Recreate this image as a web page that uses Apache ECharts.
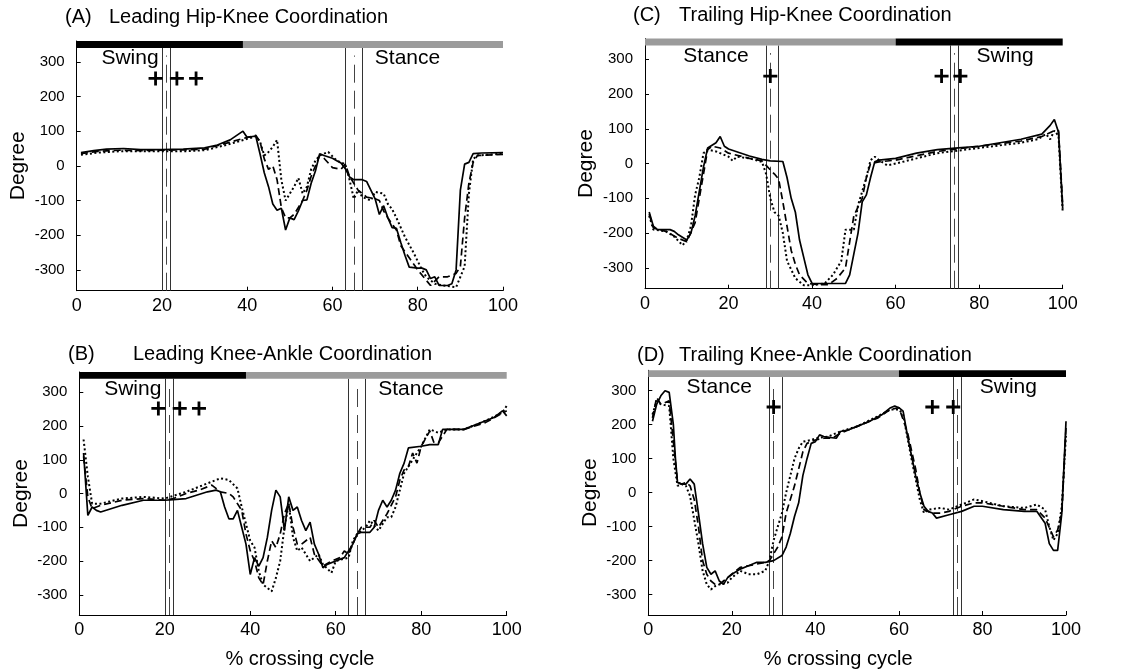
<!DOCTYPE html>
<html>
<head>
<meta charset="utf-8">
<script src="https://cdn.jsdelivr.net/npm/echarts@6/dist/echarts.min.js"></script>
<style>
  html, body { margin: 0; padding: 0; background: #fff; }
  #main { width: 1132px; height: 670px; }
</style>
</head>
<body>
<div id="main"></div>
<script>
// ---- data: [% crossing cycle, degree] ----
// (A) Leading hip-knee
var leadHipKneeSolid = [[1,38],[4,44],[7,48],[11,50],[15,47],[20,47],[25,48],[30,52],[33,60],[36,75],[39,100],[40,82],[42,86],[43,35],[44,-20],[45,-60],[46,-110],[47,-128],[48,-122],[49,-185],[50,-150],[51,-155],[52,-130],[53,-100],[54,-98],[55,-50],[56,-15],[57,35],[58,30],[60,22],[61,15],[62,8],[63,-8],[64,-32],[65,-40],[67,-40],[68,-45],[69,-70],[70,-95],[71,-140],[72,-115],[73,-150],[74,-178],[75,-180],[76,-220],[77,-258],[78,-292],[80,-295],[81,-295],[82,-300],[83,-325],[84,-320],[85,-345],[87,-345],[88,-340],[89,-300],[90,-70],[91,5],[92,10],[93,35],[95,37],[100,38]];
var leadHipKneeDashed = [[1,35],[5,42],[10,45],[15,44],[20,45],[25,46],[30,48],[35,65],[40,82],[42,88],[43,70],[44,20],[45,-10],[46,0],[47,-40],[48,-120],[49,-150],[50,-150],[51,-140],[52,-120],[53,-100],[54,-70],[55,-30],[56,0],[57,30],[58,22],[60,-5],[62,-10],[63,5],[64,-30],[65,-50],[66,-70],[68,-90],[70,-95],[71,-100],[72,-130],[73,-150],[75,-185],[76,-230],[78,-265],[80,-300],[82,-330],[83,-345],[85,-320],[87,-320],[89,-310],[90,-290],[91,-150],[92,-50],[93,10],[94,30],[100,33]];
var leadHipKneeDotted = [[1,32],[5,38],[10,42],[15,42],[20,42],[25,42],[30,45],[35,60],[40,78],[42,85],[43,70],[44,30],[45,40],[46,55],[47,75],[48,-40],[49,-100],[50,-80],[51,-60],[52,-35],[53,-80],[54,-60],[55,-10],[56,15],[57,30],[59,40],[61,15],[63,5],[64,-40],[65,-95],[66,-70],[67,-90],[69,-100],[70,-75],[72,-80],[73,-110],[74,-125],[75,-150],[77,-205],[79,-250],[81,-300],[82,-320],[84,-340],[86,-345],[89,-350],[90,-320],[91,-290],[92,-80],[93,20],[94,30],[100,35]];

// (B) Leading knee-ankle
var leadKneeAnkleSolid = [[1,120],[2,-65],[3,-40],[4,-50],[5,-55],[10,-35],[15,-20],[20,-20],[22,-18],[25,-15],[30,5],[32,10],[33,5],[34,-40],[35,-75],[36,-75],[37,-50],[38,-100],[39,-150],[40,-240],[41,-190],[42,-215],[43,-190],[44,-130],[45,-50],[46,10],[47,-10],[48,-110],[49,-10],[50,-50],[51,-40],[52,-80],[53,-110],[54,-85],[55,-150],[56,-180],[57,-220],[58,-210],[60,-200],[62,-190],[63,-170],[64,-150],[65,-120],[66,-115],[68,-115],[69,-100],[70,-50],[71,-20],[72,-40],[73,-20],[74,10],[75,60],[76,90],[77,135],[80,140],[82,145],[84,145],[85,190],[88,190],[90,190],[93,205],[97,225],[99,245],[100,230]];
var leadKneeAnkleDashed = [[1,110],[2,-10],[3,-45],[5,-35],[10,-20],[15,-15],[20,-20],[22,-15],[25,0],[28,10],[30,20],[31,25],[33,5],[35,0],[36,-10],[38,-50],[39,-120],[40,-170],[41,-200],[42,-250],[43,-270],[44,-200],[45,-140],[46,-160],[47,-120],[48,-60],[49,-30],[50,-100],[51,-150],[52,-150],[54,-130],[55,-180],[57,-215],[59,-200],[61,-190],[62,-170],[63,-180],[64,-150],[65,-120],[66,-100],[68,-100],[69,-80],[70,-100],[72,-60],[74,-10],[75,40],[76,70],[77,80],[78,120],[79,90],[80,140],[82,185],[83,150],[84,150],[86,190],[90,190],[95,210],[100,245]];
var leadKneeAnkleDotted = [[1,160],[2,50],[3,-30],[5,-30],[10,-15],[15,-10],[20,-15],[25,5],[30,30],[33,45],[35,40],[37,15],[38,-40],[39,-90],[40,-140],[41,-160],[42,-230],[43,-270],[44,-280],[45,-290],[46,-250],[47,-200],[48,-100],[49,-30],[50,-130],[51,-170],[52,-160],[53,-180],[54,-200],[56,-180],[57,-210],[59,-235],[60,-200],[63,-190],[64,-140],[65,-120],[67,-100],[68,-80],[70,-110],[72,-70],[73,-70],[74,-40],[76,60],[78,100],[80,140],[82,190],[84,180],[86,190],[90,190],[95,215],[99,240],[100,260]];

// (C) Trailing hip-knee
var trailHipKneeSolid = [[1,-139],[2,-180],[3,-190],[6,-190],[7,-195],[8,-205],[10,-220],[11,-200],[12,-150],[13,-80],[14,-10],[15,45],[17,60],[18,78],[19,50],[20,42],[25,22],[28,12],[30,8],[33,6],[34,-40],[35,-100],[36,-140],[37,-220],[38,-270],[39,-320],[40,-345],[48,-345],[49,-320],[50,-260],[51,-200],[52,-110],[53,-90],[54,-40],[55,5],[56,10],[60,15],[65,30],[70,40],[75,45],[80,50],[85,60],[90,70],[95,85],[97,110],[98,127],[99,90],[100,-130]];
var trailHipKneeDashed = [[1,-145],[2,-185],[5,-195],[8,-215],[10,-225],[12,-170],[13,-100],[14,-30],[15,40],[16,50],[18,45],[20,30],[25,15],[28,8],[29,-5],[30,-18],[31,-30],[32,-45],[33,-110],[34,-180],[35,-250],[36,-290],[37,-320],[39,-345],[41,-348],[44,-348],[46,-330],[48,-300],[50,-150],[52,-100],[53,-40],[54,0],[56,5],[60,10],[70,35],[80,50],[90,65],[95,78],[98,95],[99,95],[100,-120]];
var trailHipKneeDotted = [[1,-150],[2,-190],[5,-195],[7,-210],[9,-235],[10,-220],[11,-180],[12,-90],[13,-40],[14,30],[15,40],[17,35],[20,20],[21,8],[22,20],[25,15],[28,5],[29,-30],[30,-100],[31,-140],[32,-150],[33,-200],[34,-280],[36,-330],[38,-350],[40,-350],[43,-345],[45,-320],[47,-280],[48,-190],[50,-190],[51,-120],[52,-80],[53,-40],[54,10],[55,20],[56,10],[58,-5],[60,0],[70,30],[80,45],[90,60],[94,70],[96,85],[97,70],[98,95],[99,80],[100,-140]];

// (D) Trailing knee-ankle
var trailKneeAnkleSolid = [[1,210],[2,260],[3,285],[4,300],[5,295],[6,200],[6.5,100],[7,30],[8,25],[9,25],[10,40],[11,25],[12,-60],[13,-150],[14,-220],[15,-240],[16,-230],[17,-260],[18,-270],[19,-250],[20,-240],[22,-225],[24,-215],[26,-205],[28,-205],[30,-200],[32,-185],[33,-160],[34,-120],[35,-70],[36,-30],[37,50],[38,100],[39,145],[40,150],[41,170],[42,165],[45,160],[46,180],[48,185],[50,195],[53,210],[56,230],[58,250],[59,255],[60,250],[61,240],[62,170],[63,110],[64,50],[65,0],[66,-40],[67,-55],[68,-60],[69,-75],[72,-65],[75,-55],[78,-40],[80,-40],[85,-50],[90,-55],[93,-55],[95,-90],[96,-150],[97,-170],[98,-170],[99,-60],[100,210]];
var trailKneeAnkleDashed = [[1,220],[2,280],[3,260],[5,270],[6,150],[7,30],[8,25],[9,30],[10,20],[11,-20],[12,-100],[13,-200],[14,-240],[15,-260],[16,-270],[17,-270],[18,-260],[20,-240],[22,-220],[24,-215],[26,-210],[28,-205],[29,-200],[30,-180],[31,-160],[32,-130],[33,-60],[34,-20],[35,20],[36,70],[37,120],[38,145],[40,155],[42,160],[44,160],[46,175],[50,195],[55,220],[58,245],[60,250],[62,180],[64,70],[65,0],[66,-50],[68,-60],[70,-60],[72,-55],[75,-40],[78,-30],[80,-30],[85,-40],[90,-50],[93,-50],[95,-75],[97,-130],[98,-110],[99,-60],[100,190]];
var trailKneeAnkleDotted = [[1,230],[2,270],[3,260],[5,255],[6,100],[7,20],[8,25],[9,20],[10,-10],[11,-80],[12,-150],[13,-230],[14,-270],[15,-285],[16,-275],[17,-270],[19,-265],[20,-250],[22,-230],[24,-240],[26,-240],[28,-230],[29,-200],[30,-140],[31,-100],[32,-60],[33,0],[34,50],[35,100],[36,130],[37,150],[39,155],[40,160],[43,165],[46,180],[50,195],[55,225],[58,245],[60,245],[61,230],[63,100],[65,-20],[66,-60],[67,-50],[70,-45],[72,-50],[75,-35],[78,-20],[80,-25],[85,-40],[90,-45],[93,-35],[95,-50],[96,-100],[97,-140],[98,-120],[99,-40],[100,170]];

// phase bars [from, to, phase], event lines, "+" marks, phase labels
var leadPhases = [[0, 39, "swing"], [39, 100, "stance"]];
var trailPhases = [[0, 60, "stance"], [60, 100, "swing"]];
var leadSolidLines = [20, 22, 63, 67];
var leadDashLines = [21, 65];
var trailSolidLines = [29, 32, 73, 75];
var trailDashLines = [30, 74];
var leadPlus = [18.5, 23.5, 28];
var trailHipPlus = [30, 71, 75.5];
var trailAnklePlus = [30, 68, 73];
var leadLabels = [[12.5, 310, "Swing"], [77.6, 310, "Stance"]];
var trailLabels = [[17, 310, "Stance"], [86.2, 310, "Swing"]];
var yTicks = [-300, -200, -100, 0, 100, 200, 300];
var plusY = 252;

var FONT = "Liberation Sans, Arial, Helvetica, sans-serif";
var TXT = "#000";

var panels = [
  { grid: { left: 76.7, top: 41, width: 426.3, height: 249.7 },
    lines: [leadHipKneeSolid, leadHipKneeDashed, leadHipKneeDotted],
    phases: leadPhases, solid: leadSolidLines, dash: leadDashLines, plus: leadPlus, labels: leadLabels,
    tag: "(A)", title: "Leading Hip-Knee Coordination", tagX: 65, titleX: 109, titleY: 7, xName: "", xNamePad: [0, 0, 0, 0] },
  { grid: { left: 79.3, top: 372, width: 427.4, height: 248.6 },
    lines: [leadKneeAnkleSolid, leadKneeAnkleDashed, leadKneeAnkleDotted],
    phases: leadPhases, solid: leadSolidLines, dash: leadDashLines, plus: leadPlus, labels: leadLabels,
    tag: "(B)", title: "Leading Knee-Ankle Coordination", tagX: 68, titleX: 133, titleY: 344, xName: "% crossing cycle", xNamePad: [0, 0, 0, 14] },
  { grid: { left: 645, top: 38.5, width: 417.7, height: 250.2 },
    lines: [trailHipKneeSolid, trailHipKneeDashed, trailHipKneeDotted],
    phases: trailPhases, solid: trailSolidLines, dash: trailDashLines, plus: trailHipPlus, labels: trailLabels,
    tag: "(C)", title: "Trailing Hip-Knee Coordination", tagX: 633, titleX: 679, titleY: 5, xName: "", xNamePad: [0, 0, 0, 0] },
  { grid: { left: 648.3, top: 370.3, width: 417.7, height: 248.7 },
    lines: [trailKneeAnkleSolid, trailKneeAnkleDashed, trailKneeAnkleDotted],
    phases: trailPhases, solid: trailSolidLines, dash: trailDashLines, plus: trailAnklePlus, labels: trailLabels,
    tag: "(D)", title: "Trailing Knee-Ankle Coordination", tagX: 637, titleX: 679, titleY: 345, xName: "% crossing cycle", xNamePad: [0, 38, 0, 0] }
];

var lineTypes = ["solid", [7, 4], [2, 2.5]];
var plusPath = "path://M4,0H6V4H10V6H6V10H4V6H0V4H4Z";

var grids = [], xAxes = [], yAxes = [], series = [], titles = [];

panels.forEach(function (p, i) {
  grids.push(p.grid);
  titles.push({ text: p.tag, left: p.tagX, top: p.titleY, padding: 0,
    textStyle: { fontSize: 20, fontWeight: "normal", color: TXT, fontFamily: FONT } });
  titles.push({ text: p.title, left: p.titleX, top: p.titleY, padding: 0,
    textStyle: { fontSize: 20, fontWeight: "normal", color: TXT, fontFamily: FONT } });

  xAxes.push({
    gridIndex: i, type: "value", min: 0, max: 100, interval: 20,
    name: p.xName, nameLocation: "middle", nameGap: 34,
    nameTextStyle: { fontSize: 20, color: TXT, fontFamily: FONT, padding: p.xNamePad },
    axisLine: { onZero: false, lineStyle: { color: "#000", width: 1 } },
    axisTick: { inside: true, length: 4, lineStyle: { color: "#000" } },
    axisLabel: { fontSize: 18, color: TXT, margin: 6, fontFamily: FONT },
    splitLine: { show: false }
  });
  yAxes.push({
    gridIndex: i, type: "value", min: -360, max: 360,
    name: "Degree", nameLocation: "middle", nameGap: 48,
    nameTextStyle: { fontSize: 21, color: TXT, fontFamily: FONT },
    axisLine: { show: true, onZero: false, lineStyle: { color: "#000", width: 1 } },
    axisTick: { show: true, inside: true, length: 4, customValues: yTicks, lineStyle: { color: "#000" } },
    axisLabel: { fontSize: 15, color: TXT, margin: 12, customValues: yTicks, fontFamily: FONT },
    splitLine: { show: false }
  });

  // vertical event lines
  var ml = [];
  p.solid.forEach(function (x) {
    ml.push([{ coord: [x, -360], lineStyle: { color: "#333", width: 1, type: "solid" } }, { coord: [x, 340] }]);
  });
  p.dash.forEach(function (x) {
    ml.push([{ coord: [x, -360], lineStyle: { color: "#444", width: 1, type: [18, 8] } }, { coord: [x, 318] }]);
  });
  // phase bar along the top
  var ma = p.phases.map(function (ph) {
    return [{ xAxis: ph[0], yAxis: 340, itemStyle: { color: ph[2] === "swing" ? "#000" : "#9b9b9b", opacity: 1 } },
            { xAxis: ph[1], yAxis: 360 }];
  });

  p.lines.forEach(function (d, k) {
    var s = {
      type: "line", xAxisIndex: i, yAxisIndex: i, data: d,
      symbol: "none", silent: true, z: 3,
      lineStyle: { color: "#000", width: k === 2 ? 2 : 1.7, type: lineTypes[k] }
    };
    if (k === 0) {
      s.markLine = { silent: true, symbol: ["none", "none"], label: { show: false }, animation: false, data: ml, z: 2 };
      s.markArea = { silent: true, label: { show: false }, data: ma, z: 4 };
    }
    series.push(s);
  });

  series.push({
    type: "scatter", xAxisIndex: i, yAxisIndex: i, silent: true, z: 5,
    data: p.plus.map(function (x) { return [x, plusY]; }),
    symbol: plusPath, symbolSize: 14, itemStyle: { color: "#000", opacity: 1 }
  });
  series.push({
    type: "scatter", xAxisIndex: i, yAxisIndex: i, silent: true, z: 5,
    data: p.labels, symbolSize: 1, itemStyle: { color: "rgba(0,0,0,0)", opacity: 1 },
    label: { show: true, position: "inside", formatter: function (q) { return q.data[2]; },
      fontSize: 21, color: TXT, opacity: 1, fontFamily: FONT }
  });
});

var chart = echarts.init(document.getElementById("main"));
chart.setOption({
  animation: false,
  backgroundColor: "#fff",
  textStyle: { fontFamily: FONT },
  title: titles,
  grid: grids,
  xAxis: xAxes,
  yAxis: yAxes,
  series: series
});
</script>
</body>
</html>
